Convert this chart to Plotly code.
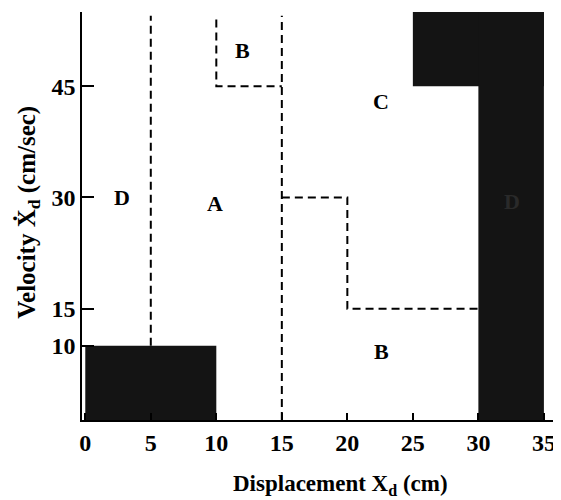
import plotly.graph_objects as go

# Region boundaries (data units)
x_ticks = [0, 5, 10, 15, 20, 25, 30, 35]
y_ticks = [10, 15, 30, 45]
y_top = 55

# dark regions: (x0, x1, y0, y1)
dark_regions = [
    (0, 10, 0, 10),
    (25, 35, 45, 55),
    (30, 35, 0, 55),
]

# dashed boundaries as polylines
boundary_x = [
    [5, 5],
    [15, 15],
    [10, 10, 15],
    [15, 20, 20, 30],
]
boundary_y = [
    [10, 54.5],
    [0, 54.5],
    [54, 45, 45],
    [30, 30, 15, 15],
]

label_text = ["D", "A", "B", "C", "B", "D"]
label_x = [2.8, 9.9, 12.0, 22.6, 22.6, 32.6]
label_y = [30, 29.2, 49.8, 43.0, 9.2, 29.5]
label_color = ["black", "black", "black", "black", "black", "#2a2a2a"]

FONT = "Liberation Serif"

fig = go.Figure()

for (x0, x1, y0, y1) in dark_regions:
    fig.add_trace(go.Scatter(
        x=[x0, x1, x1, x0, x0], y=[y0, y0, y1, y1, y0],
        fill="toself", fillcolor="#141414", mode="lines",
        line=dict(width=0, color="#141414"), hoverinfo="skip", showlegend=False))

for bx, by in zip(boundary_x, boundary_y):
    fig.add_trace(go.Scatter(
        x=bx, y=by, mode="lines",
        line=dict(color="black", width=2, dash="8px,5px"),
        hoverinfo="skip", showlegend=False))

for t, x, y, c in zip(label_text, label_x, label_y, label_color):
    fig.add_annotation(x=x, y=y, text=f"<b>{t}</b>", showarrow=False,
                       font=dict(family=FONT, size=22, color=c))

fig.add_annotation(x=0.545, y=-0.16, xref="paper", yref="paper",
                   xanchor="center", yanchor="middle",
                   text="<b>Displacement X<sub>d</sub> (cm)</b>", showarrow=False,
                   font=dict(family=FONT, size=23, color="black"))
fig.add_annotation(x=-0.112, y=0.51, xref="paper", yref="paper", textangle=-90,
                   xanchor="center", yanchor="middle",
                   text="<b>Velocity Ẋ<sub>d</sub> (cm/sec)</b>", showarrow=False,
                   font=dict(family=FONT, size=25, color="black"))

fig.update_xaxes(range=[-0.25, 36], tickvals=x_ticks,
                 ticktext=[f"<b>{v}</b>" for v in x_ticks],
                 showline=True, linecolor="black", linewidth=1.5,
                 ticks="inside", ticklen=7, tickwidth=1.5, tickcolor="black",
                 showgrid=False, zeroline=False,
                 tickfont=dict(family=FONT, size=24, color="black"))
fig.update_yaxes(range=[0, y_top], tickvals=y_ticks,
                 ticktext=[f"<b>{v}</b>" for v in y_ticks],
                 showline=True, linecolor="black", linewidth=1.5,
                 ticks="inside", ticklen=12, tickwidth=1.5, tickcolor="black",
                 showgrid=False, zeroline=False,
                 tickfont=dict(family=FONT, size=24, color="black"))

fig.update_layout(width=553, height=492,
                  margin=dict(l=74, r=4, t=4, b=80),
                  plot_bgcolor="white", paper_bgcolor="white")

fig.write_html("out.html")
